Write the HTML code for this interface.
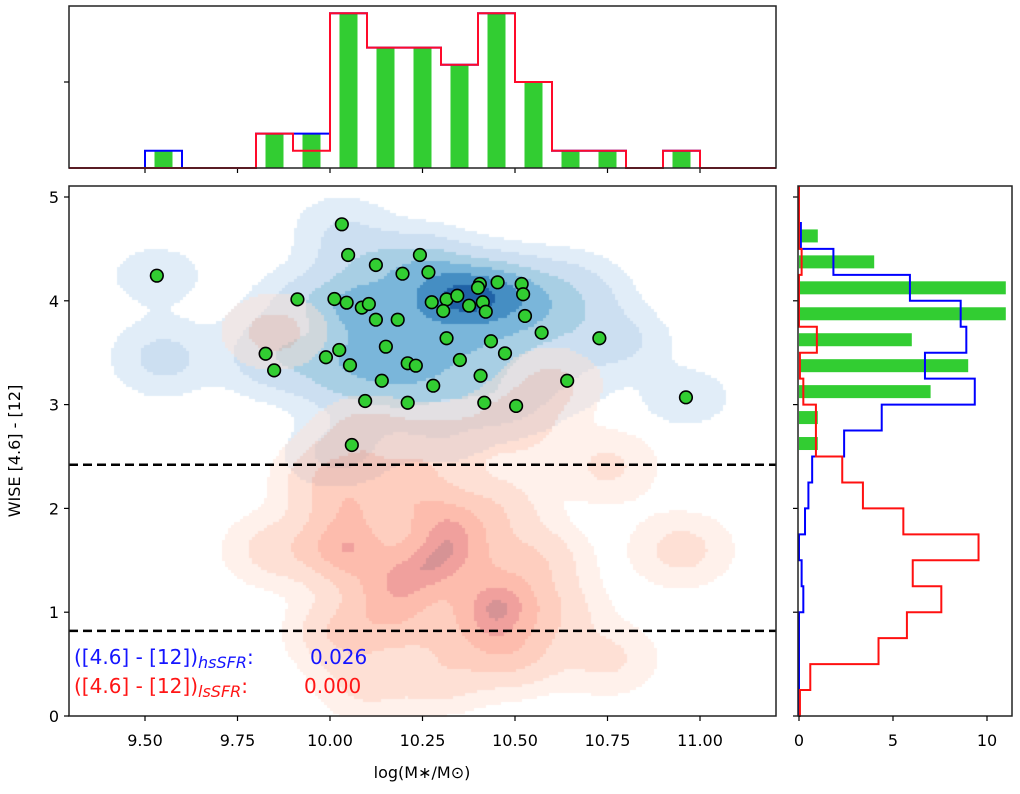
<!DOCTYPE html>
<html><head><meta charset="utf-8">
<style>
body{margin:0;background:#fff;width:1020px;height:794px;overflow:hidden;position:relative;font-family:"DejaVu Sans","Liberation Sans",sans-serif;}
#cv{position:absolute;left:0;top:0;}
svg{position:absolute;left:0;top:0;}
</style></head>
<body>
<canvas id="cv" width="1020" height="794"></canvas>
<svg id="s" width="1020" height="794"></svg>
<script>
// ---- data ----
const ptsX = [9.532,10.032,10.049,10.124,10.196,10.243,10.266,9.912,10.012,10.045,10.086,10.105,10.124,10.183,10.151,10.025,9.989,10.054,9.826,9.849,10.140,10.210,10.232,10.095,10.210,10.059,10.275,10.315,10.344,10.306,10.376,10.405,10.400,10.453,10.413,10.421,10.518,10.522,10.527,10.572,10.728,10.315,10.435,10.473,10.351,10.407,10.279,10.641,10.417,10.503,10.962];
const ptsY = [4.242,4.737,4.441,4.345,4.261,4.441,4.275,4.014,4.017,3.982,3.934,3.969,3.818,3.818,3.558,3.526,3.456,3.379,3.490,3.330,3.230,3.398,3.375,3.035,3.018,2.611,3.986,4.014,4.049,3.902,3.953,4.162,4.126,4.178,3.986,3.895,4.162,4.063,3.854,3.693,3.639,3.639,3.610,3.494,3.430,3.278,3.182,3.230,3.018,2.987,3.070];
const blueExtraX = [9.55,9.55,9.85,10.0,10.2,10.6,10.7,10.3,10.65,10.8,10.0,10.3];
const blueExtraY = [3.55,3.35,3.7,3.2,3.6,3.9,4.0,4.3,4.2,3.6,2.5,2.7];
const redX = [10.04,10.45,10.04,10.25,10.3,10.2,9.85,10.95,10.75,10.5,10.3,10.1,10.75,9.85,10.5,10.1,10.6,10.15,10.35,10.0,10.55,10.2,10.4,10.6,10.3,10.05,10.45];
const redY = [1.6,1.1,0.8,1.4,1.9,2.2,1.6,1.6,0.55,0.6,0.4,0.3,2.4,3.7,2.8,2.7,3.2,1.2,1.6,2.3,1.5,0.9,0.8,1.0,2.6,2.0,2.0];
const redW = [1.0,1.0,0.6,0.8,0.7,0.5,0.35,0.35,0.3,0.6,0.4,0.3,0.3,0.35,0.4,0.4,0.3,0.6,0.7,0.5,0.5,0.5,0.5,0.4,0.4,0.5,0.4];
const topBins = [9.5,9.6,9.7,9.8,9.9,10.0,10.1,10.2,10.3,10.4,10.5,10.6,10.7,10.8,10.9];
const topBlue = [1,0,0,2,2,9,7,7,6,9,5,1,1,0,1];
const topRed  = [0,0,0,2,1,9,7,7,6,9,5,1,1,0,1];
const topGreen= [1,0,0,2,2,9,7,7,6,9,5,1,1,0,1];
const rBins = [0,0.25,0.5,0.75,1.0,1.25,1.5,1.75,2.0,2.25,2.5,2.75,3.0,3.25,3.5,3.75,4.0,4.25,4.5,4.75];
const rBlue = [0,0,0,0,0.23,0.14,0,0.32,0.5,0.7,2.4,4.4,9.35,6.7,8.9,8.6,5.9,1.83,0.1,0];
const rRed  = [0.05,0.6,4.23,5.74,7.57,6.05,9.55,5.55,3.4,2.3,0.9,0.9,0.23,0.05,0.95,0,0,0.14,0,0];
const rGreenC = [2.625,2.875,3.125,3.375,3.625,3.875,4.125,4.375,4.625];
const rGreen  = [1,1,7,9,6,11,11,4,1];
const xTicks = [9.50,9.75,10.00,10.25,10.50,10.75,11.00];
const yTicks = [0,1,2,3,4,5];
const rTicks = [0,5,10];
const hLines = [2.42,0.82];

// ---- scales ----
const L=69,R=776,T=186,B=716,TT=6,TB=168,RL=798,RR=1012;
const X=v=>145+(v-9.5)*370, Y=v=>716-v*103.8;
const Yt=c=>TB-c*17.2, Xr=c=>RL+1+c*18.8;
const NS='http://www.w3.org/2000/svg', s=document.getElementById('s');
function el(t,a,p){const e=document.createElementNS(NS,t);for(const k in a)e.setAttribute(k,a[k]);(p||s).appendChild(e);return e;}

// ---- density canvas ----
const cv=document.getElementById('cv'),cx=cv.getContext('2d');
const cell=3;
function dens(xs,ys,ws,sx,sy,px,py){let d=0;for(let i=0;i<xs.length;i++){const dx=(px-xs[i])/sx,dy=(py-ys[i])/sy;d+=(ws?ws[i]:1)*Math.exp(-0.5*(dx*dx+dy*dy));}return d;}
const blues=['#deebf7','#c6dbef','#9ecae1','#6baed6','#3182bd','#08519c'];
const reds=['#fee0d2','#fcbba1','#fc9272','#fb6a4a','#de2d26','#a50f15'];
function layer(xs,ys,ws,sx,sy,cols,alpha,lv){
  const g=[];let mx=0;
  for(let py=T;py<B;py+=cell){for(let px=L;px<R;px+=cell){const d=dens(xs,ys,ws,sx,sy,9.5+(px+1.5-145)/370,(716-py-1.5)/103.8);g.push([px,py,d]);if(d>mx)mx=d;}}
  cx.globalAlpha=alpha;
  for(const [px,py,d] of g){const r=d/mx;let k=-1;for(let i=0;i<lv.length;i++)if(r>=lv[i])k=i;if(k>=0){cx.fillStyle=cols[k];cx.fillRect(px,py,cell,cell);}}
  cx.globalAlpha=1;
}
const bx=ptsX.concat(blueExtraX), by=ptsY.concat(blueExtraY);
layer(bx,by,null,0.085,0.2,blues,0.9,[0.05,0.15,0.32,0.5,0.7,0.9]);
layer(redX,redY,redW,0.085,0.22,reds,0.45,[0.06,0.18,0.4,0.65,0.85,0.97]);

// ---- main axes ----
hLines.forEach((h,i)=>{const l=el('line',{x1:L,x2:R,y1:Y(h),y2:Y(h),stroke:'#000','stroke-width':2.5,'stroke-dasharray':'9,5'});
});
ptsX.forEach((v,i)=>{const c=el('circle',{cx:X(v),cy:Y(ptsY[i]),r:6.3,fill:'#32cd32',stroke:'#000','stroke-width':1.6});
});
let f=el('rect',{x:L,y:T,width:R-L,height:B-T,fill:'none',stroke:'#222','stroke-width':1.5});

xTicks.forEach(v=>{el('line',{x1:X(v),x2:X(v),y1:B,y2:B+5,stroke:'#000','stroke-width':1.2});
const t=el('text',{x:X(v),y:B+30,'text-anchor':'middle','font-size':16});t.textContent=v.toFixed(2);

el('line',{x1:X(v),x2:X(v),y1:TB,y2:TB+5,stroke:'#000','stroke-width':1.2});});
yTicks.forEach(v=>{el('line',{x1:L-5,x2:L,y1:Y(v),y2:Y(v),stroke:'#000','stroke-width':1.2});
const t=el('text',{x:L-10,y:Y(v)+6,'text-anchor':'end','font-size':16});t.textContent=v;

el('line',{x1:RL-5,x2:RL,y1:Y(v),y2:Y(v),stroke:'#000','stroke-width':1.2});});
let yl=el('text',{x:20,y:451,'text-anchor':'middle','font-size':16,transform:'rotate(-90 20 451)'});yl.textContent='WISE [4.6] - [12]';

let xl=el('text',{x:422,y:778,'text-anchor':'middle','font-size':16});xl.textContent='log(M\u2217/M\u2299)';

let a1=el('text',{x:74,y:664,fill:'#1515ff','font-size':20});a1.innerHTML='([4.6] - [12])<tspan font-size="16" font-style="italic" dy="4">hsSFR</tspan><tspan dy="-4">:</tspan>';

let v1=el('text',{x:310,y:664,fill:'#1515ff','font-size':20});v1.textContent='0.026';

let a2=el('text',{x:74,y:693,fill:'#ff1515','font-size':20});a2.innerHTML='([4.6] - [12])<tspan font-size="16" font-style="italic" dy="4">lsSFR</tspan><tspan dy="-4">:</tspan>';

let v2=el('text',{x:304,y:693,fill:'#ff1515','font-size':20});v2.textContent='0.000';


// ---- top histogram ----
function stepTop(vals,col,nm){let d='M'+L+' '+TB;topBins.forEach((b,i)=>{d+=' L'+X(b)+' '+(i==0?TB:Yt(vals[i-1]))+' L'+X(b)+' '+Yt(vals[i]);});
const e=X(topBins[topBins.length-1]+0.1);d+=' L'+e+' '+Yt(vals[vals.length-1])+' L'+e+' '+TB+' L'+R+' '+TB;
const p=el('path',{d:d,fill:'none',stroke:col,'stroke-width':2});}
topBins.forEach((b,i)=>{if(topGreen[i]>0){const r=el('rect',{x:X(b+0.05)-9,y:Yt(topGreen[i]),width:18,height:TB-Yt(topGreen[i]),fill:'#32cd32'});
}});
stepTop(topBlue,'#0000ff','top-blue-step');
stepTop(topRed,'#ff0a2a','top-red-step');
f=el('rect',{x:L,y:TT,width:R-L,height:TB-TT,fill:'none',stroke:'#222','stroke-width':1.5});

el('line',{x1:L-5,x2:L,y1:Yt(5),y2:Yt(5),stroke:'#000','stroke-width':1.2});

// ---- right histogram ----
rGreenC.forEach((c,i)=>{const r=el('rect',{x:Xr(0),y:Y(c)-6.5,width:Xr(rGreen[i])-Xr(0),height:13,fill:'#32cd32'});
});
function stepR(vals,col,nm){let d='M'+Xr(0)+' '+Y(0);rBins.forEach((b,i)=>{d+=' L'+Xr(vals[i])+' '+Y(b)+' L'+Xr(vals[i])+' '+Y(b+0.25);});d+=' L'+Xr(0)+' '+Y(5)+' L'+Xr(0)+' '+T;
const p=el('path',{d:d,fill:'none',stroke:col,'stroke-width':2});}
stepR(rBlue,'#0000ff','right-blue-step');
stepR(rRed,'#ff1010','right-red-step');
f=el('rect',{x:RL,y:T,width:RR-RL,height:B-T,fill:'none',stroke:'#222','stroke-width':1.5});

rTicks.forEach(v=>{el('line',{x1:Xr(v),x2:Xr(v),y1:B,y2:B+5,stroke:'#000','stroke-width':1.2});
const t=el('text',{x:Xr(v),y:B+30,'text-anchor':'middle','font-size':16});t.textContent=v;
});
</script>
</body></html>
